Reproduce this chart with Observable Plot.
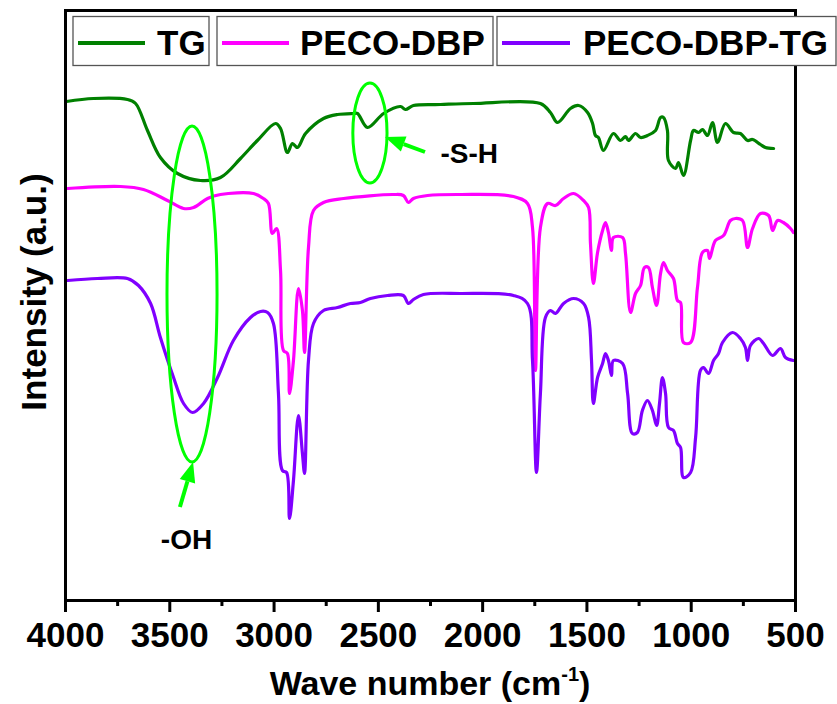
<!DOCTYPE html>
<html>
<head>
<meta charset="utf-8">
<script src="https://cdn.jsdelivr.net/npm/d3@7"></script>
<script src="https://cdn.jsdelivr.net/npm/@observablehq/plot@0.6"></script>
<style>
  html, body { margin: 0; padding: 0; background: white; }
</style>
</head>
<body>
<div id="chart"></div>
<script>
// Wavenumbers (cm-1) and intensities (a.u.)
const tgWave = [3995,3866,3703,3664,3607,3545,3463,3353,3257,3161,3080,2993,2969,2936,2912,2888,2849,2763,2696,2619,2600,2552,2475,2394,2370,2332,2202,2044,1723,1675,1641,1579,1540,1497,1473,1459,1445,1421,1373,1339,1315,1301,1267,1243,1210,1171,1147,1133,1114,1109,1075,1061,1037,1003,989,965,946,922,898,874,836,797,764,730,706,668,644,605];
const tgInt  = [499,502,501,497,470,443,427,420,423,442,460,477,472,448,457,453,467,482,486,487,487,473,487,494,491,495,496,497,497,488,478,492,495,488,477,465,463,450,467,460,464,460,467,463,465,470,483,483,470,440,432,438,425,460,470,468,471,465,478,458,477,468,467,460,461,456,453,452];

const pdWave = [3990,3736,3626,3511,3434,3386,3319,3257,3099,3051,3027,3008,2988,2969,2955,2936,2926,2907,2883,2864,2854,2835,2811,2763,2667,2427,2380,2356,2332,2264,2106,1852,1785,1761,1747,1723,1689,1651,1612,1564,1516,1492,1483,1469,1449,1425,1411,1397,1382,1373,1329,1315,1291,1267,1243,1224,1205,1186,1166,1147,1133,1114,1085,1066,1051,1037,1003,970,946,922,912,884,845,812,788,754,730,706,668,629,610,586,558,524,510];
const pdInt  = [412,414,411,400,392,393,402,406,407,402,397,367,372,330,250,247,207,240,312,290,248,353,390,398,402,406,405,398,402,405,406,404,397,373,230,373,397,395,402,407,400,393,357,317,348,370,378,368,350,363,363,347,288,307,315,333,333,313,295,327,338,330,322,300,298,258,258,313,348,350,342,360,365,380,382,380,353,372,387,385,370,380,378,372,368];

const pdtWave = [3990,3847,3703,3650,3592,3545,3482,3434,3391,3338,3271,3195,3113,3065,3031,3003,2979,2960,2940,2926,2907,2883,2864,2854,2835,2811,2763,2696,2634,2586,2538,2456,2380,2356,2332,2284,2106,1852,1785,1761,1742,1723,1699,1675,1651,1612,1564,1516,1492,1478,1469,1449,1425,1411,1397,1382,1373,1329,1305,1282,1258,1234,1210,1186,1166,1152,1138,1123,1109,1085,1066,1051,1037,1003,979,956,941,917,893,869,850,802,764,740,730,716,677,653,610,572,548,510];
const pdtInt  = [320,322,322,315,297,263,223,197,188,197,223,260,283,289,288,277,207,130,128,82,120,185,147,127,240,277,290,293,297,298,302,305,305,297,301,306,307,305,297,240,128,207,283,290,287,297,302,297,283,240,197,223,237,247,240,225,240,237,207,167,168,190,200,190,175,197,223,207,173,170,157,153,123,128,163,230,233,227,240,247,258,268,262,253,240,255,262,257,245,252,243,240];

const seriesNames  = ["TG", "PECO-DBP", "PECO-DBP-TG"];
const seriesColors = ["#008000", "#ff00ff", "#8000ff"];
const majorTicks = [4000,3500,3000,2500,2000,1500,1000,500];
const minorTicks = [3750,3250,2750,2250,1750,1250,750];

// Annotations in data units
const ellipses = [ // cx (cm-1), cy (a.u.), rx (cm-1), ry (a.u.)
  {cx: 3391, cy: 306, rx: 120, ry: 168},
  {cx: 2538, cy: 467, rx: 82, ry: 50}
];
const arrows = [ // tail -> head
  {x1: 3449, y1: 93, x2: 3386, y2: 138},
  {x1: 2274, y1: 448, x2: 2466, y2: 463}
];
const ohLabel = [{x: 3420, y: 60, text: "-OH"}];
const shLabel = [{x: 2202, y: 446, text: "-S-H"}];

const toRows = (w, v, name) => w.map((x, i) => ({wn: x, v: v[i], series: name}));
const rows = [
  ...toRows(tgWave, tgInt, seriesNames[0]),
  ...toRows(pdWave, pdInt, seriesNames[1]),
  ...toRows(pdtWave, pdtInt, seriesNames[2])
];

const FONT = "'Liberation Sans', Arial, Helvetica, sans-serif";
const lime = "#00ff00";

const plot = Plot.plot({
  width: 837,
  height: 704,
  marginLeft: 65,
  marginRight: 42,
  marginTop: 10,
  marginBottom: 104,
  style: {fontFamily: FONT, background: "white", overflow: "visible"},
  x: {domain: [4000, 500]},
  y: {domain: [0, 590], axis: null},
  color: {domain: seriesNames, range: seriesColors},
  marks: [
    Plot.line(rows, {x: "wn", y: "v", z: "series", stroke: "series", strokeWidth: 3.2, curve: "catmull-rom", strokeLinejoin: "round", strokeLinecap: "round"}),
    Plot.text(ohLabel, {x: "x", y: "y", text: "text", textAnchor: "middle", fontSize: 28, fontWeight: "bold", fill: "black"}),
    Plot.text(shLabel, {x: "x", y: "y", text: "text", textAnchor: "start", fontSize: 28, fontWeight: "bold", fill: "black"}),
    Plot.axisX({ticks: minorTicks, tickSize: 6, strokeWidth: 3, text: null, label: null}),
    Plot.axisX({ticks: majorTicks, tickSize: 12, strokeWidth: 3, tickPadding: 10, fontSize: 35, fontWeight: "bold", fill: "black", tickFormat: d => String(d), label: null}),
    Plot.frame({stroke: "black", strokeWidth: 3})
  ]
});

const sx = plot.scale("x"), sy = plot.scale("y");
const svg = d3.select(plot);
const pxPerWave = Math.abs(sx.apply(1000) - sx.apply(0)) / 1000;
const pxPerInt = Math.abs(sy.apply(100) - sy.apply(0)) / 100;

// Ellipses
const ann = svg.append("g");
ellipses.forEach(e => {
  ann.append("ellipse")
    .attr("cx", sx.apply(e.cx)).attr("cy", sy.apply(e.cy))
    .attr("rx", e.rx * pxPerWave).attr("ry", e.ry * pxPerInt)
    .attr("fill", "none").attr("stroke", lime).attr("stroke-width", 3);
});
// Arrows with filled heads
arrows.forEach(a => {
  const x1 = sx.apply(a.x1), y1 = sy.apply(a.y1), x2 = sx.apply(a.x2), y2 = sy.apply(a.y2);
  const ang = Math.atan2(y2 - y1, x2 - x1);
  const hl = 20, hw = 8;
  const bx = x2 - hl * Math.cos(ang), by = y2 - hl * Math.sin(ang);
  ann.append("line").attr("x1", x1).attr("y1", y1).attr("x2", bx).attr("y2", by)
    .attr("stroke", lime).attr("stroke-width", 4);
  const px = -Math.sin(ang), py = Math.cos(ang);
  ann.append("polygon")
    .attr("points", [[x2, y2], [bx + hw * px, by + hw * py], [bx - hw * px, by - hw * py]].map(p => p.join(",")).join(" "))
    .attr("fill", lime);
});

// Legend boxes
const legendBoxes = [
  {x: 73, w: 136, lx1: 78, lx2: 145, tx: 157},
  {x: 217, w: 276, lx1: 222, lx2: 289, tx: 300},
  {x: 497, w: 339, lx1: 502, lx2: 570, tx: 583}
];
const lg = svg.append("g").attr("text-anchor", "start");
legendBoxes.forEach((b, i) => {
  lg.append("rect").attr("x", b.x).attr("y", 16.5).attr("width", b.w).attr("height", 49)
    .attr("fill", "white").attr("stroke", "#555").attr("stroke-width", 1.3);
  lg.append("line").attr("x1", b.lx1).attr("x2", b.lx2).attr("y1", 43).attr("y2", 43)
    .attr("stroke", seriesColors[i]).attr("stroke-width", 4);
  lg.append("text").attr("x", b.tx).attr("y", 55)
    .attr("text-anchor", "start")
    .attr("font-family", FONT).attr("font-weight", "bold").attr("font-size", 35)
    .attr("fill", "black").text(seriesNames[i]);
});

// Axis titles
const xt = svg.append("text").attr("x", (sx.range[0] + sx.range[1]) / 2).attr("y", 695)
  .attr("text-anchor", "middle").attr("font-family", FONT).attr("font-weight", "bold")
  .attr("font-size", 34).attr("fill", "black");
xt.append("tspan").text("Wave number (cm");
xt.append("tspan").attr("font-size", 20).attr("dy", -14).text("-1");
xt.append("tspan").attr("dy", 14).text(")");

svg.append("text").attr("transform", "translate(46,292) rotate(-90)")
  .attr("text-anchor", "middle").attr("font-family", FONT).attr("font-weight", "bold")
  .attr("font-size", 35).attr("fill", "black").text("Intensity (a.u.)");

document.getElementById("chart").appendChild(plot);
</script>
</body>
</html>
